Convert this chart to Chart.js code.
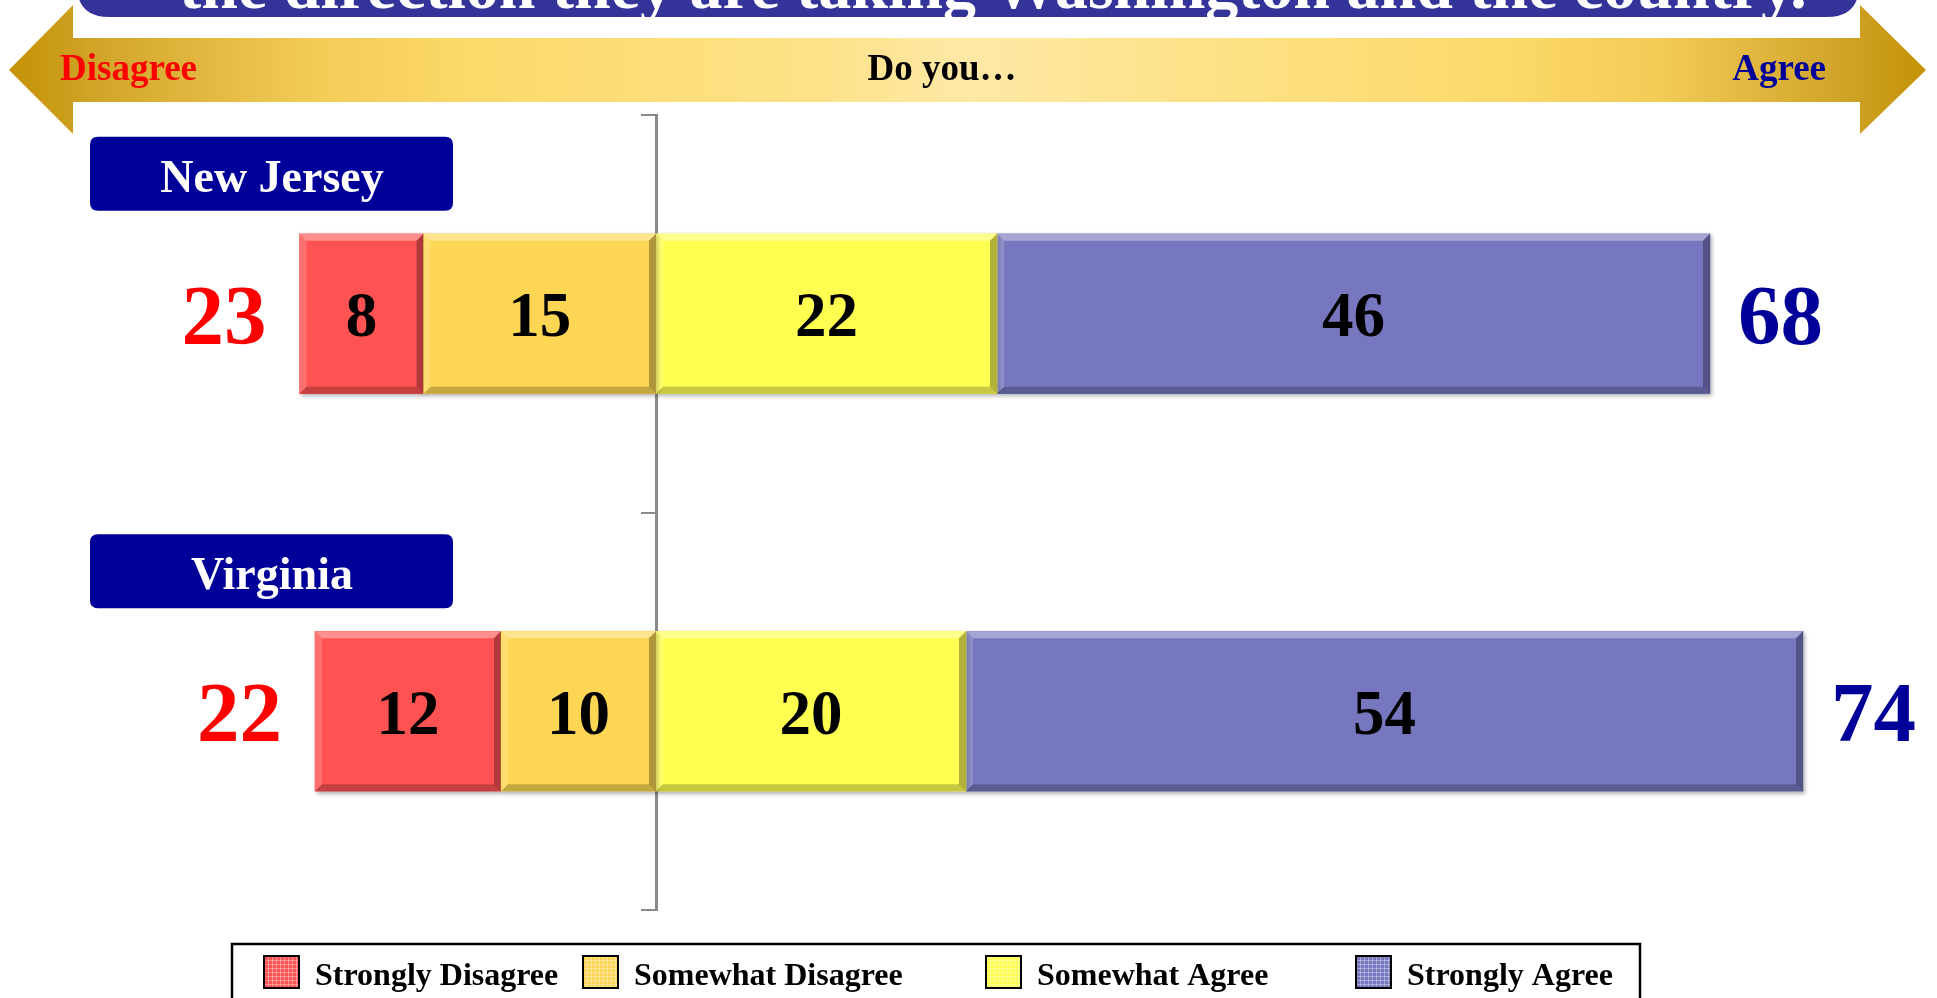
<!DOCTYPE html>
<html>
<head>
<meta charset="utf-8">
<title>Do you...</title>
<script src="https://cdn.jsdelivr.net/npm/chart.js@4.4.1/dist/chart.umd.min.js"></script>
<style>
    html, body { margin: 0; padding: 0; background: #fff; overflow: hidden; }
    #wrap { position: relative; width: 1937px; height: 998px; }
</style>
</head>
<body>
<div id="wrap"><canvas id="surveyChart"></canvas></div>
<script>
// survey data (percent)
const categories = ['New Jersey', 'Virginia'];
const seriesNames = ['Strongly Disagree', 'Somewhat Disagree', 'Somewhat Agree', 'Strongly Agree'];
const stronglyDisagree = [8, 12];
const somewhatDisagree = [15, 10];
const somewhatAgree = [22, 20];
const stronglyAgree = [46, 54];

const disagreeTotals = stronglyDisagree.map((v, i) => v + somewhatDisagree[i]);
const agreeTotals = stronglyAgree.map((v, i) => v + somewhatAgree[i]);

const serif = '"Liberation Serif", "Times New Roman", serif';
const seriesColors = {
    'Strongly Disagree': '#FF5252',
    'Somewhat Disagree': '#FDD653',
    'Somewhat Agree': '#FFFF52',
    'Strongly Agree': '#7777BF'
};

// disagree side is stacked outward from zero, so "somewhat" goes first
const datasets = [
    { label: seriesNames[1], data: somewhatDisagree.map(v => -v) },
    { label: seriesNames[0], data: stronglyDisagree.map(v => -v) },
    { label: seriesNames[2], data: somewhatAgree },
    { label: seriesNames[3], data: stronglyAgree }
].map(ds => Object.assign(ds, {
    backgroundColor: seriesColors[ds.label],
    borderWidth: 0,
    barThickness: 160
}));

function roundRectPath(ctx, x, y, w, h, r) {
    ctx.beginPath();
    ctx.moveTo(x + r, y);
    ctx.lineTo(x + w - r, y);
    ctx.quadraticCurveTo(x + w, y, x + w, y + r);
    ctx.lineTo(x + w, y + h - r);
    ctx.quadraticCurveTo(x + w, y + h, x + w - r, y + h);
    ctx.lineTo(x + r, y + h);
    ctx.quadraticCurveTo(x, y + h, x, y + h - r);
    ctx.lineTo(x, y + r);
    ctx.quadraticCurveTo(x, y, x + r, y);
    ctx.closePath();
}

function poly(ctx, pts, fill) {
    ctx.beginPath();
    ctx.moveTo(pts[0][0], pts[0][1]);
    for (let i = 1; i < pts.length; i++) ctx.lineTo(pts[i][0], pts[i][1]);
    ctx.closePath();
    ctx.fillStyle = fill;
    ctx.fill();
}

// header banner + agree/disagree arrow
const headerPlugin = {
    id: 'header',
    beforeDraw(chart) {
        const ctx = chart.ctx;
        ctx.save();
        ctx.fillStyle = '#ffffff';
        ctx.fillRect(0, 0, chart.width, chart.height);

        // title banner (cut off at the top)
        roundRectPath(ctx, 77, -80, 1782, 97, 32);
        ctx.fillStyle = '#333399';
        ctx.fill();
        ctx.fillStyle = '#ffffff';
        ctx.font = 'bold 66px ' + serif;
        ctx.textAlign = 'center';
        ctx.textBaseline = 'alphabetic';
        ctx.fillText('the direction they are taking Washington and the country.', 993, 8);

        // double arrow
        const g = ctx.createLinearGradient(9, 0, 1926, 0);
        g.addColorStop(0, '#C39206');
        g.addColorStop(0.05, '#D3A62C');
        g.addColorStop(0.16, '#F3CC56');
        g.addColorStop(0.24, '#FCD96A');
        g.addColorStop(0.42, '#FEE288');
        g.addColorStop(0.5, '#FEE8A6');
        g.addColorStop(0.62, '#FEE288');
        g.addColorStop(0.78, '#FCD96A');
        g.addColorStop(0.86, '#F3CC56');
        g.addColorStop(0.95, '#D3A62C');
        g.addColorStop(1, '#C39206');
        poly(ctx, [[9, 70], [73, 5], [73, 38], [1860, 38], [1860, 5], [1926, 70],
            [1860, 134], [1860, 102], [73, 102], [73, 134]], g);

        ctx.font = 'bold 37px ' + serif;
        ctx.textAlign = 'left';
        ctx.fillStyle = '#FF0000';
        ctx.fillText('Disagree', 60, 80);
        ctx.textAlign = 'center';
        ctx.fillStyle = '#000000';
        ctx.fillText('Do you\u2026', 942, 80);
        ctx.textAlign = 'right';
        ctx.fillStyle = '#000099';
        ctx.fillText('Agree', 1826, 80);
        ctx.restore();
    }
};

// soft shadow under the bars
const shadowPlugin = {
    id: 'barShadow',
    beforeDatasetDraw(chart) {
        const ctx = chart.ctx;
        ctx.save();
        ctx.shadowColor = 'rgba(0,0,0,0.3)';
        ctx.shadowBlur = 4;
        ctx.shadowOffsetX = 2;
        ctx.shadowOffsetY = 2;
    },
    afterDatasetDraw(chart) {
        chart.ctx.restore();
    }
};

// bevel edges, values, totals, state tags, legend
const overlayPlugin = {
    id: 'overlay',
    afterDatasetsDraw(chart) {
        const ctx = chart.ctx;
        const yScale = chart.scales.y;
        const b = 7;
        const extent = categories.map(() => ({ left: Infinity, right: -Infinity }));
        ctx.save();

        chart.data.datasets.forEach((ds, di) => {
            const meta = chart.getDatasetMeta(di);
            meta.data.forEach((bar, i) => {
                const p = bar.getProps(['x', 'y', 'base', 'height'], true);
                const l = Math.min(p.x, p.base), r = Math.max(p.x, p.base);
                const t = p.y - p.height / 2, btm = p.y + p.height / 2;
                extent[i].left = Math.min(extent[i].left, l);
                extent[i].right = Math.max(extent[i].right, r);

                poly(ctx, [[l, t], [r, t], [r - b, t + b], [l + b, t + b]], 'rgba(255,255,255,0.35)');
                poly(ctx, [[l, t], [l + b, t + b], [l + b, btm - b], [l, btm]], 'rgba(255,255,255,0.18)');
                poly(ctx, [[l, btm], [l + b, btm - b], [r - b, btm - b], [r, btm]], 'rgba(0,0,0,0.22)');
                poly(ctx, [[r, t], [r, btm], [r - b, btm - b], [r - b, t + b]], 'rgba(0,0,0,0.3)');

                ctx.fillStyle = '#000000';
                ctx.font = 'bold 63px ' + serif;
                ctx.textAlign = 'center';
                ctx.textBaseline = 'middle';
                ctx.fillText(String(Math.abs(ds.data[i])), (l + r) / 2, p.y + 6);
            });
        });

        categories.forEach((name, i) => {
            const cy = yScale.getPixelForValue(i);
            ctx.font = 'bold 85px ' + serif;
            ctx.textBaseline = 'middle';
            ctx.textAlign = 'right';
            ctx.fillStyle = '#FF0000';
            ctx.fillText(String(disagreeTotals[i]), extent[i].left - 33, cy + 8);
            ctx.textAlign = 'left';
            ctx.fillStyle = '#000099';
            ctx.fillText(String(agreeTotals[i]), extent[i].right + 28, cy + 8);

            // state tag above each bar
            roundRectPath(ctx, 90, cy - 177, 363, 74, 8);
            ctx.fillStyle = '#000099';
            ctx.fill();
            ctx.fillStyle = '#ffffff';
            ctx.font = 'bold 46px ' + serif;
            ctx.textAlign = 'center';
            ctx.textBaseline = 'alphabetic';
            ctx.fillText(name, 272, cy - 122);
        });

        // legend box
        ctx.lineWidth = 2.5;
        ctx.strokeStyle = '#000000';
        ctx.strokeRect(232, 944, 1408, 80);
        const legendX = [264, 583, 986, 1356];
        seriesNames.forEach((name, k) => {
            const x = legendX[k], y = 956;
            ctx.fillStyle = seriesColors[name];
            ctx.fillRect(x, y, 35, 32);
            ctx.strokeStyle = 'rgba(255,255,255,0.35)';
            ctx.lineWidth = 1;
            for (let s = 4; s < 35; s += 4) {
                ctx.beginPath(); ctx.moveTo(x + s + 0.5, y); ctx.lineTo(x + s + 0.5, y + 32); ctx.stroke();
            }
            for (let s = 4; s < 32; s += 4) {
                ctx.beginPath(); ctx.moveTo(x, y + s + 0.5); ctx.lineTo(x + 35, y + s + 0.5); ctx.stroke();
            }
            ctx.strokeStyle = '#000000';
            ctx.lineWidth = 2;
            ctx.strokeRect(x, y, 35, 32);
            ctx.fillStyle = '#000000';
            ctx.font = 'bold 32px ' + serif;
            ctx.textAlign = 'left';
            ctx.textBaseline = 'alphabetic';
            ctx.fillText(name, x + 51, 985);
        });
        ctx.restore();
    }
};

const ctx1 = document.getElementById('surveyChart').getContext('2d');
const surveyChart = new Chart(ctx1, {
    type: 'bar',
    data: {
        labels: categories,
        datasets: datasets
    },
    options: {
        indexAxis: 'y',
        responsive: true,
        maintainAspectRatio: false,
        animation: false,
        layout: {
            padding: { left: 191, right: 41, top: 115, bottom: 88 }
        },
        scales: {
            x: {
                type: 'linear',
                stacked: true,
                min: -30,
                max: 80,
                display: false
            },
            y: {
                type: 'category',
                stacked: true,
                position: { x: 0 },
                afterFit: (scale) => { scale.width = 0; },
                grid: {
                    display: true,
                    offset: true,
                    drawOnChartArea: false,
                    drawTicks: true,
                    tickLength: 14,
                    color: '#8a8a8a',
                    lineWidth: 2
                },
                border: { display: true, color: '#8a8a8a', width: 3 },
                ticks: { display: false }
            }
        },
        plugins: {
            legend: { display: false },
            title: { display: false },
            tooltip: { enabled: false }
        }
    },
    plugins: [headerPlugin, shadowPlugin, overlayPlugin]
});
</script>
</body>
</html>
